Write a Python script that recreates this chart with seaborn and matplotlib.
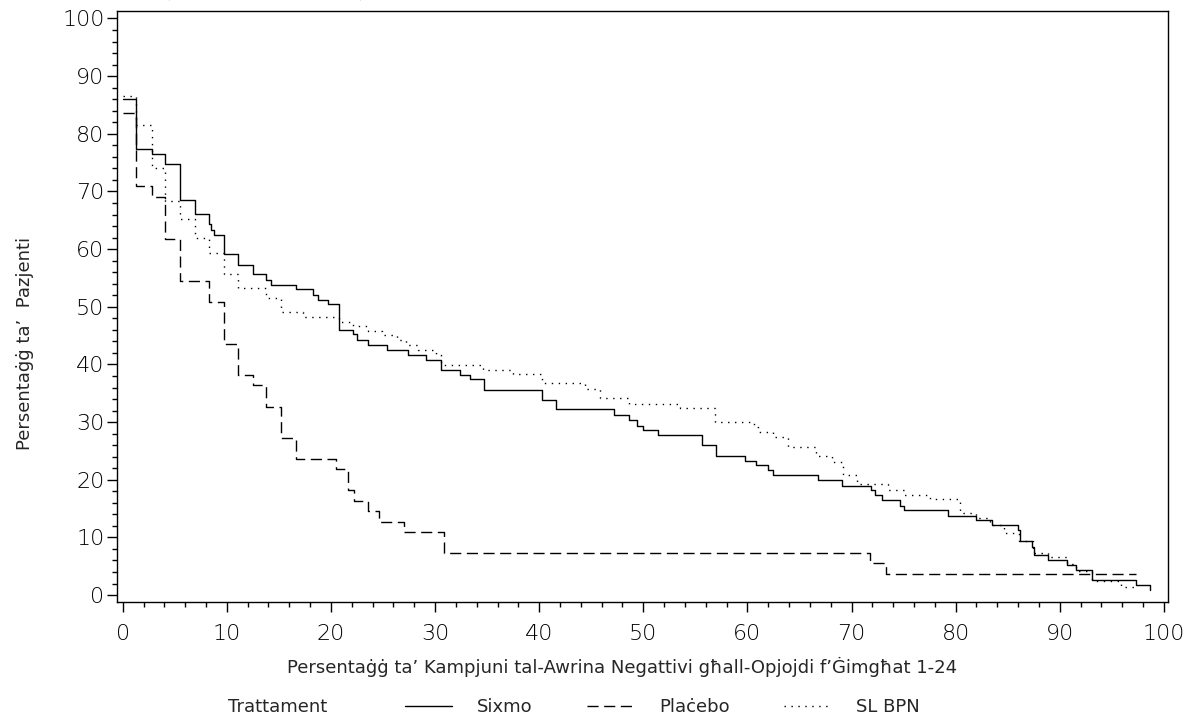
import numpy as np
import matplotlib
matplotlib.use("Agg")
import matplotlib.pyplot as plt
import seaborn as sns
from matplotlib.lines import Line2D
from matplotlib.ticker import MultipleLocator

sns.set_style("ticks")
plt.rcParams['font.family'] = ['DejaVu Sans']

# step curves (x = % negative urine samples, y = % patients)
sixmo_x = [0.0, 1.3, 2.8, 4.1, 5.5, 6.9, 8.3, 8.5, 8.8, 9.7, 11.1, 12.5, 13.8, 14.2,
           16.6, 18.3, 18.8, 19.7, 20.8, 22.1, 22.5, 23.6, 25.4, 27.4, 29.1, 30.6,
           32.4, 33.4, 34.7, 40.3, 41.6, 47.2, 48.6, 49.4, 50.0, 51.4, 55.6, 57.0,
           59.8, 60.8, 62.0, 62.5, 66.8, 69.1, 71.9, 72.3, 72.9, 74.7, 75.0, 79.3,
           82.0, 83.5, 86.0, 86.2, 87.3, 87.5, 88.9, 90.7, 91.6, 93.1, 97.3, 98.7]
sixmo_y = [86.1, 77.3, 76.5, 74.7, 68.6, 66.1, 64.3, 63.3, 62.5, 59.1, 57.3, 55.6, 54.7, 53.8,
           53.0, 52.1, 51.2, 50.4, 46.0, 45.2, 44.3, 43.4, 42.5, 41.7, 40.8, 39.0,
           38.1, 37.4, 35.6, 33.8, 32.2, 31.2, 30.4, 29.4, 28.6, 27.8, 26.0, 24.2,
           23.3, 22.5, 21.7, 20.8, 19.9, 19.0, 18.2, 17.3, 16.5, 15.5, 14.7, 13.7,
           13.0, 12.1, 11.3, 9.4, 8.3, 6.9, 6.0, 5.2, 4.3, 2.6, 1.7, 0.9]

placebo_x = [0.0, 1.3, 2.8, 4.1, 5.5, 8.3, 9.7, 11.1, 12.5, 13.8, 15.2, 16.6, 20.5,
             21.6, 22.2, 23.6, 24.6, 27.0, 30.9, 71.8, 73.3, 97.3]
placebo_y = [83.6, 70.9, 69.1, 61.8, 54.5, 50.9, 43.6, 38.2, 36.4, 32.7, 27.3, 23.6, 21.8,
             18.2, 16.4, 14.5, 12.7, 10.9, 7.3, 5.5, 3.6, 3.6]

slbpn_x = [0.0, 1.3, 2.8, 4.1, 5.5, 6.9, 8.3, 9.7, 11.1, 13.8, 15.2, 17.3, 20.8, 22.1,
           23.6, 24.9, 26.3, 27.2, 28.4, 30.1, 30.6, 34.6, 37.5, 40.3, 44.4, 45.8,
           48.6, 53.5, 56.9, 60.6, 61.0, 62.5, 63.9, 66.6, 68.1, 69.2, 70.5, 73.5,
           75.0, 77.5, 80.4, 82.0, 83.3, 84.6, 86.1, 87.4, 88.9, 90.7, 91.6, 93.1,
           95.9, 97.3]
slbpn_y = [86.5, 81.6, 74.1, 68.3, 65.3, 61.9, 59.3, 55.7, 53.3, 51.6, 49.1, 48.2, 47.4, 46.6,
           45.8, 45.1, 44.3, 43.3, 42.5, 41.7, 39.9, 39.0, 38.3, 36.7, 35.8, 34.1,
           33.2, 32.5, 30.0, 29.2, 28.3, 27.4, 25.7, 24.1, 23.1, 20.8, 19.2, 18.2,
           17.3, 16.6, 14.2, 13.3, 12.1, 10.8, 9.4, 7.3, 6.6, 5.4, 4.2, 2.5,
           1.4, 1.4]

series_names = ["Sixmo", "Plaċebo", "SL BPN"]
legend_title = "Trattament"
x_label = "Persentaġġ ta’ Kampjuni tal-Awrina Negattivi għall-Opjojdi f’Ġimgħat 1-24"
y_label = "Persentaġġ ta’  Pazjenti"
top_title = "(Popolazzjoni FAS)"

line_styles = ["-", (0, (8, 4)), (0, (1, 4))]

fig = plt.figure(figsize=(11.96, 7.24), dpi=100)
ax = fig.add_axes([117 / 1196, 1 - 602 / 724, (1168 - 117) / 1196, (602 - 11) / 724])

curves = [(sixmo_x, sixmo_y), (placebo_x, placebo_y), (slbpn_x, slbpn_y)]
for (xs, ys), ls in zip(curves, line_styles):
    sns.lineplot(x=xs, y=ys, ax=ax, estimator=None, sort=False, color="black",
                 linestyle=ls, linewidth=1.0, drawstyle="steps-post")

ax.set_xlim(-0.55, 100.4)
ax.set_ylim(-1.2, 101.3)
ax.xaxis.set_major_locator(MultipleLocator(10))
ax.xaxis.set_minor_locator(MultipleLocator(2))
ax.yaxis.set_major_locator(MultipleLocator(10))
ax.yaxis.set_minor_locator(MultipleLocator(2))
for s in ax.spines.values():
    s.set_visible(True)
    s.set_linewidth(1.0)
    s.set_color("black")
ax.tick_params(which="major", length=7, width=1.0, color="black", labelsize=16,
               labelcolor="black")
ax.tick_params(which="minor", length=3.5, width=1.0, color="black")
ax.tick_params(axis="x", which="major", pad=9)
ax.tick_params(axis="y", which="major", pad=2)
for lab in ax.get_xticklabels() + ax.get_yticklabels():
    lab.set_fontweight("light")

ax.set_xlabel(x_label, fontsize=13, va="center")
ax.xaxis.set_label_coords(0.4805, -0.11)
ax.set_ylabel(y_label, fontsize=13, va="center")
ax.yaxis.set_label_coords(-0.088, 0.438)

# title line sits mostly above the figure edge, only its descenders show
fig.text(265 / 1196, 1 + 5 / 724, top_title, ha="center", va="baseline",
         fontsize=18, fontweight="bold", family=["Liberation Serif", "DejaVu Serif"])

handles = [Line2D([], [], color="black", linestyle=ls, linewidth=1.0) for ls in line_styles]
fig.text(228 / 1196, 1 - 707 / 724, legend_title, ha="left", va="center", fontsize=13)
fig.legend(handles, series_names, loc="center left", bbox_to_anchor=(405 / 1196, 1 - 707 / 724),
           ncol=3, frameon=False, fontsize=13, borderpad=0, borderaxespad=0,
           handlelength=2.6, handletextpad=1.4, columnspacing=3.0)

fig.savefig("out.png", dpi=100, facecolor="white")
